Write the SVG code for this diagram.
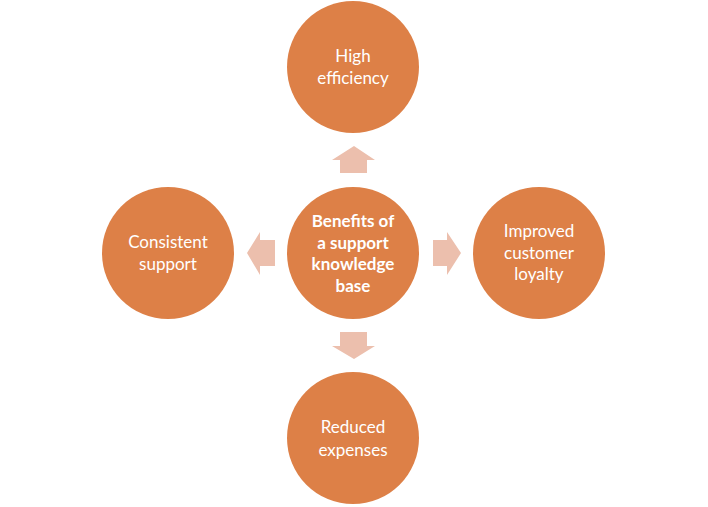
<svg xmlns="http://www.w3.org/2000/svg" width="708" height="507" viewBox="0 0 708 507">
<style>
.c{fill:#DD8047}
.a{fill:#ECBFAD}
.t{font-family:Lato,"Open Sans","Liberation Sans",sans-serif;font-size:17px;fill:#ffffff;text-anchor:middle}
.b{font-weight:bold}
</style>
<rect width="708" height="507" fill="#ffffff"/>
<g id="connectors">
<polygon class="a" points="354,146 375,160 367,160 367,173 340,173 340,160 332,160"/>
<polygon class="a" points="340,332 367,332 367,346 375,346 354,359 332,346 340,346"/>
<polygon class="a" points="247,253 260,232 260,240 275,240 275,266 260,266 260,275"/>
<polygon class="a" points="461,253 447,232 447,240 433,240 433,266 447,266 447,275"/>
</g>
<g id="center">
<circle class="c" cx="353" cy="253" r="66"/>
<text class="t b" x="353" y="227">Benefits of</text>
<text class="t b" x="353" y="248.5">a support</text>
<text class="t b" x="353" y="270">knowledge</text>
<text class="t b" x="353" y="292">base</text>
</g>
<g id="top">
<circle class="c" cx="353" cy="67" r="66"/>
<text class="t" x="353" y="62">High</text>
<text class="t" x="353" y="84">efficiency</text>
</g>
<g id="bottom">
<circle class="c" cx="353" cy="438" r="66"/>
<text class="t" x="353" y="433">Reduced</text>
<text class="t" x="353" y="456">expenses</text>
</g>
<g id="left">
<circle class="c" cx="168" cy="253" r="66"/>
<text class="t" x="168" y="248">Consistent</text>
<text class="t" x="168" y="270">support</text>
</g>
<g id="right">
<circle class="c" cx="539" cy="253" r="66"/>
<text class="t" x="539" y="237">Improved</text>
<text class="t" x="539" y="258.5">customer</text>
<text class="t" x="539" y="280">loyalty</text>
</g>
</svg>
